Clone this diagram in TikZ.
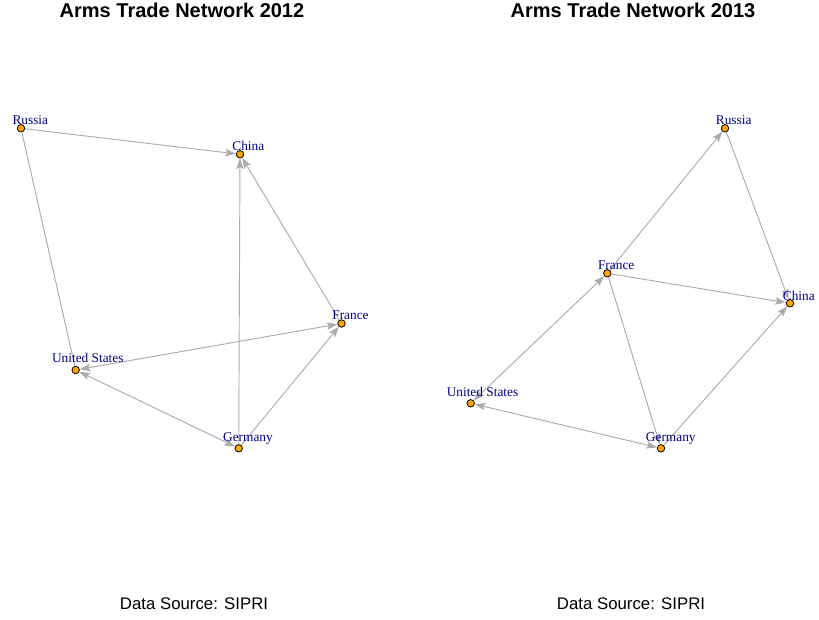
\documentclass[tikz,border=0pt]{standalone}
\usepackage{fontspec}
\setmainfont{Liberation Serif}
\newfontfamily\arialfont{Liberation Sans}
\usetikzlibrary{arrows.meta}
\definecolor{edgegrey}{HTML}{ABABAB}
\definecolor{lblblue}{HTML}{00008B}
\definecolor{vtxorange}{HTML}{FFA500}
\tikzset{
  tip/.tip={Stealth[length=8pt,width=5.6pt,inset=1.6pt]},
  vtx/.style={circle, draw=black, line width=0.6pt, fill=vtxorange, minimum size=5.6pt, inner sep=0pt},
  lbl/.style={anchor=base, inner sep=0pt, text=lblblue, font=\fontsize{10}{12}\selectfont},
  edge/.style={draw=edgegrey, line width=0.7pt},
  arr/.style={edge, -tip},
  biarr/.style={edge, tip-tip},
  ttl/.style={anchor=base, inner sep=0pt, font=\arialfont\bfseries\fontsize{15}{18}\selectfont},
  src/.style={anchor=base, inner sep=0pt, font=\arialfont\fontsize{12.6}{15}\selectfont}
}
\begin{document}
\begin{tikzpicture}[x=0.75pt,y=-0.75pt]
\useasboundingbox (0,0) rectangle (819,619);
% titles
\node[ttl] (t12) at (182,17) {Arms Trade Network 2012};
\node[ttl] (t13) at (633,17) {Arms Trade Network 2013};
\node[src] (s12) at (194,609) {Data Source: SIPRI};
\node[src] (s13) at (631,609) {Data Source: SIPRI};
% ---------- 2012 ----------
\node[vtx] (ru12) at (21,128.3) {};
\node[vtx] (cn12) at (240,154.3) {};
\node[vtx] (fr12) at (341.5,323.5) {};
\node[vtx] (us12) at (75.7,370) {};
\node[vtx] (de12) at (238.7,448.3) {};
\draw[edge] (ru12) -- (us12);
\draw[arr] (ru12) -- (cn12);
\draw[arr] (de12) -- (cn12);
\draw[arr] (fr12) -- (cn12);
\draw[biarr] (us12) -- (fr12);
\draw[biarr] (us12) -- (de12);
\draw[arr] (de12) -- (fr12);
\node[lbl] (lru12) at (30.3,124) {Russia};
\node[lbl] (lcn12) at (248.3,150.7) {China};
\node[lbl] (lfr12) at (350.5,319) {France};
\node[lbl] (lus12) at (87.8,362.3) {United States};
\node[lbl] (lde12) at (248,441.7) {Germany};
% ---------- 2013 ----------
\node[vtx] (ru13) at (725,128.3) {};
\node[vtx] (fr13) at (607.3,273.3) {};
\node[vtx] (cn13) at (790,303.3) {};
\node[vtx] (us13) at (470.7,403.3) {};
\node[vtx] (de13) at (661,448.3) {};
\draw[arr] (fr13) -- (ru13);
\draw[arr] (ru13) -- (cn13);
\draw[arr] (fr13) -- (cn13);
\draw[biarr] (us13) -- (fr13);
\draw[arr] (fr13) -- (de13);
\draw[biarr] (us13) -- (de13);
\draw[arr] (de13) -- (cn13);
\node[lbl] (lru13) at (733.7,124) {Russia};
\node[lbl] (lfr13) at (616.2,269) {France};
\node[lbl] (lcn13) at (798.8,300) {China};
\node[lbl] (lus13) at (482.5,396) {United States};
\node[lbl] (lde13) at (670.8,441.7) {Germany};
\end{tikzpicture}
\end{document}
